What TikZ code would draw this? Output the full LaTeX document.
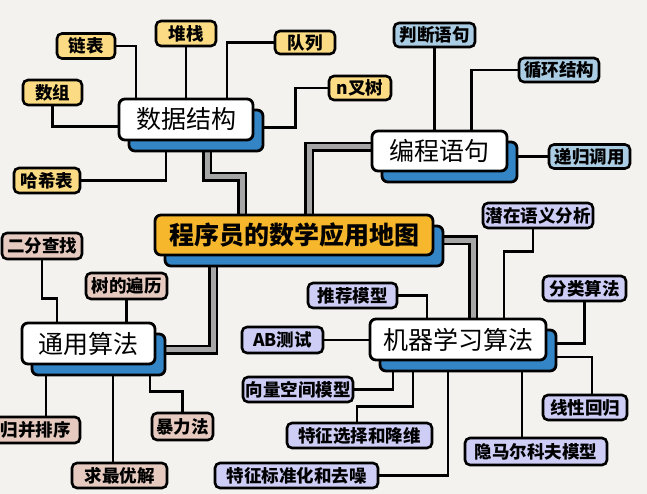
\documentclass[tikz,border=0pt]{standalone}
\usepackage{fontspec}
\newfontfamily\cjk{Noto Sans CJK SC}
\usetikzlibrary{calc,shadows}
\pgfdeclarelayer{bg}
\pgfdeclarelayer{lines}
\pgfsetlayers{bg,lines,main}
\definecolor{paper}{RGB}{243,242,238}
\definecolor{yleaf}{RGB}{251,219,132}
\definecolor{bleaf}{RGB}{170,205,227}
\definecolor{pleaf}{RGB}{230,202,192}
\definecolor{lleaf}{RGB}{205,205,246}
\definecolor{mapgold}{RGB}{247,183,45}
\definecolor{shadowblue}{RGB}{51,133,198}
\definecolor{trunkgrey}{RGB}{166,166,166}
\begin{document}
\begin{tikzpicture}[x=1pt,y=-1pt,
  leaf/.style={draw=black,line width=2.6pt,rounded corners=5pt,inner sep=0pt,minimum height=25pt,
    font=\cjk\bfseries\fontsize{17.5}{17.5}\selectfont},
  branch/.style={draw=black,line width=2.8pt,rounded corners=6pt,fill=white,inner sep=0pt,minimum height=41pt,
    font=\cjk\fontsize{25}{25}\selectfont,
    general shadow={shadow xshift=10pt,shadow yshift=-11pt,fill=shadowblue,draw=black,line width=2.8pt}},
  link/.style={draw=black,line width=2.8pt},
  trunk/.style={draw=black,line width=2.5pt,double=trunkgrey,double distance=5pt}]

  \useasboundingbox (0,0) rectangle (647,494);
  \begin{pgfonlayer}{bg}
    \fill[paper] (0,0) rectangle (647,494);
  \end{pgfonlayer}

  \node[branch,fill=mapgold,minimum width=278pt,minimum height=40pt,font=\cjk\bfseries\fontsize{25}{25}\selectfont]
    (map) at (294,235) {程序员的数学应用地图};

  \node[branch,minimum width=134pt] (ds) at (186,119.5) {数据结构};
  \node[branch,minimum width=135pt,minimum height=40pt] (bc) at (439.5,151) {编程语句};
  \node[branch,minimum width=133pt] (ty) at (88.5,343.5) {通用算法};
  \node[branch,minimum width=176pt] (jq) at (458,339.5) {机器学习算法};

  \begin{scope}[every node/.style={leaf,fill=yleaf}]
    \node[minimum width=58pt] (lb) at (86,46) {链表};
    \node[minimum width=60pt] (dz) at (186,33.5) {堆栈};
    \node[minimum width=60pt,minimum height=23pt] (dl) at (305,42.5) {队列};
    \node[minimum width=59pt] (sz) at (52.5,92.5) {数组};
    \node[minimum width=66pt] (hx) at (47,180.5) {哈希表};
    \node[minimum width=62pt,minimum height=24pt] (nc) at (360,88) {n叉树};
  \end{scope}

  \begin{scope}[every node/.style={leaf,fill=bleaf,minimum height=24pt}]
    \node[minimum width=81pt] (pd) at (434.5,35) {判断语句};
    \node[minimum width=80pt] (xh) at (559,70) {循环结构};
    \node[minimum width=81pt] (dg) at (589.5,156.5) {递归调用};
  \end{scope}

  \begin{scope}[every node/.style={leaf,fill=pleaf,minimum height=26pt}]
    \node[minimum width=80pt] (ef) at (42,246) {二分查找};
    \node[minimum width=81pt] (sd) at (126.5,286) {树的遍历};
    \node[minimum width=88pt] (gb) at (36,430) {归并排序};
    \node[minimum width=61pt,minimum height=27pt] (bl) at (182.5,426.5) {暴力法};
    \node[minimum width=95pt,minimum height=25pt] (qz) at (119.5,475.5) {求最优解};
  \end{scope}

  \begin{scope}[every node/.style={leaf,fill=lleaf}]
    \node[minimum width=110pt] (qy) at (538,215.5) {潜在语义分析};
    \node[minimum width=83pt] (fl) at (584.5,288.5) {分类算法};
    \node[minimum width=89pt] (tj) at (352.5,295.5) {推荐模型};
    \node[minimum width=81pt,minimum height=26pt] (ab) at (282.5,340) {AB测试};
    \node[minimum width=110pt] (xl) at (298,389.5) {向量空间模型};
    \node[minimum width=145pt] (tz) at (359.5,435.5) {特征选择和降维};
    \node[minimum width=163pt] (bz) at (296.5,475.5) {特征标准化和去噪};
    \node[minimum width=84pt] (xx) at (585,407.5) {线性回归};
    \node[minimum width=142pt,minimum height=27pt] (hm) at (536,451.5) {隐马尔科夫模型};
  \end{scope}

  \begin{pgfonlayer}{lines}
    \draw[trunk] ($(ds)+(21,0)$) |- ($(map)+(-52,-58)$) -- ($(map)+(-52,0)$);
    \draw[trunk] ($(bc)+(0,-4)$) -| ($(map)+(15,0)$);
    \draw[trunk] ($(map)+(0,5)$) -| ($(jq)+(15,0)$);
    \draw[trunk] ($(map)+(-81,0)$) |- ($(ty)+(0,6)$);

    \draw[link] ($(ds)+(-50,0)$) |- (lb.east);
    \draw[link] (ds) -- (dz.south);
    \draw[link] ($(ds)+(41,0)$) |- (dl.west);
    \draw[link] ($(ds)+(0,8)$) -| ($(nc.west)+(-32,0)$) -- (nc.west);
    \draw[link] ($(ds)+(0,7)$) -| (sz.south);
    \draw[link] ($(ds)+(-20,0)$) |- (hx.east);

    \draw[link] (pd.south) -- (pd.south |- bc.center);
    \draw[link] ($(bc)+(32,0)$) |- (xh.west);
    \draw[link] (bc.center |- dg.west) -- (dg.west);

    \draw[link] (ef.south) -- ++(0,38) -| ($(ty)+(-31.5,0)$);
    \draw[link] (sd.south) -- (sd.south |- ty.center);
    \draw[link] ($(gb.north)+(10,0)$) -- ($(ty)+(-42.5,0)$);
    \draw[link] ($(qz.north)+(-6.5,0)$) -- ($(ty)+(24.5,0)$);
    \draw[link] ($(ty)+(61.5,0)$) |- ($(bl.north)+(0,-20)$) -- (bl.north);

    \draw[link] ($(jq)+(46,0)$) |- ($(qy.south)+(-5,22)$) -- ($(qy.south)+(-5,0)$);
    \draw[link] ($(jq)+(0,4)$) -| (fl.south);
    \draw[link] (tj.east) -| ($(jq)+(-31,0)$);
    \draw[link] (ab.east) -- (ab.east -| jq.center);
    \draw[link] (xl.east) -| ($(jq)+(-65,0)$);
    \draw[link] ($(jq)+(-45,0)$) |- ($(tz.north)+(-2.5,-15)$) -- ($(tz.north)+(-2.5,0)$);
    \draw[link] ($(jq)+(-10,0)$) |- (bz.east);
    \draw[link] ($(jq)+(64,0)$) -- ($(hm.north)+(-14,0)$);
    \draw[link] ($(jq)+(0,17.5)$) -| ($(xx.north)+(7,0)$);
  \end{pgfonlayer}

\end{tikzpicture}
\end{document}
